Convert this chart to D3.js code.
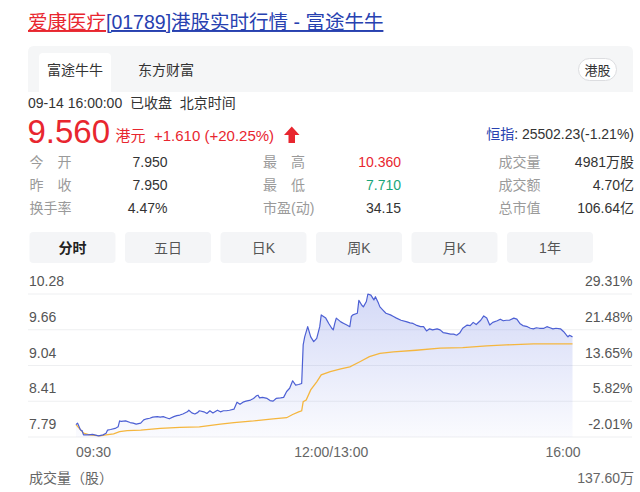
<!DOCTYPE html>
<html>
<head>
<meta charset="utf-8">
<script src="https://cdn.jsdelivr.net/npm/d3@7/dist/d3.min.js"></script>
<style>
  html, body { margin: 0; padding: 0; background: #fff; }
  svg { display: block; font-family: "Liberation Sans", Arial, "Noto Sans CJK SC", sans-serif; }
</style>
</head>
<body>
<svg id="chart" width="640" height="492"></svg>
<script>
// ---------------- DATA ----------------
const titleRed = "爱康医疗";
const titleBlue = "[01789]港股实时行情 - 富途牛牛";
const tabs = ["富途牛牛", "东方财富"];
const marketBadge = "港股";
const statusLine = "09-14 16:00:00  已收盘  北京时间";
const lastPrice = "9.560";
const currency = "港元";
const change = "+1.610 (+20.25%)";
const indexName = "恒指";
const indexValue = ": 25502.23(-1.21%)";
const statLabels1 = ["今　开", "昨　收", "换手率"];
const statValues1 = ["7.950", "7.950", "4.47%"];
const statLabels2 = ["最　高", "最　低", "市盈(动)"];
const statValues2 = ["10.360", "7.710", "34.15"];
const statLabels3 = ["成交量", "成交额", "总市值"];
const statValues3 = ["4981万股", "4.70亿", "106.64亿"];
const periodButtons = ["分时", "五日", "日K", "周K", "月K", "1年"];
const priceTicks = ["10.28", "9.66", "9.04", "8.41", "7.79"];
const pctTicks = ["29.31%", "21.48%", "13.65%", "5.82%", "-2.01%"];
const timeLabels = ["09:30", "12:00/13:00", "16:00"];
const volumeLabel = "成交量（股）";
const volumeMax = "137.60万";

// minutes since 09:30 (lunch break removed, 0..330) and price
const priceMin = [0,1,3,4,5,8,11,15,18,20,21,23,26,28,29,30,33,36,38,40,43,45,47,49,51,54,56,58,60,62,65,67,69,71,74,75,77,79,81,82,85,87,89,91,94,96,98,100,102,105,107,109,111,113,116,118,120,121,122,124,127,129,131,133,136,138,140,142,144,146,148,150,
  151,152,154,156,158,160,162,163,166,168,170,171,172,173,176,178,180,182,183,184,187,188,190,191,193,194,196,198,199,201,202,204,206,209,211,213,216,220,222,224,226,229,231,233,235,237,240,242,244,246,249,251,253,255,257,260,262,264,266,269,271,273,275,277,280,282,284,286,288,291,293,295,297,300,302,304,306,308,311,313,315,317,319,322,324,326,327,328,330];
const priceVal = [7.92,7.95,7.82,7.81,7.73,7.73,7.74,7.71,7.73,7.76,7.82,7.83,7.85,7.88,7.99,7.98,7.99,7.96,7.95,7.93,7.95,8.01,8.03,8.04,8.06,8.07,8.06,8.07,8.05,8.03,8.07,8.09,8.10,8.12,8.16,8.19,8.14,8.12,8.15,8.18,8.16,8.13,8.18,8.14,8.19,8.16,8.18,8.18,8.19,8.21,8.34,8.30,8.34,8.36,8.38,8.41,8.46,8.47,8.42,8.43,8.41,8.37,8.36,8.41,8.42,8.43,8.54,8.60,8.74,8.66,8.67,8.69,
  9.41,9.56,9.75,9.56,9.47,9.53,9.75,9.97,9.91,9.81,9.72,9.69,9.81,9.91,9.84,9.81,9.78,9.75,9.94,9.97,10.00,10.24,10.15,10.12,10.22,10.36,10.34,10.25,10.31,10.19,10.12,10.06,10.00,9.97,9.94,9.91,9.87,9.84,9.82,9.81,9.78,9.75,9.75,9.67,9.71,9.69,9.71,9.69,9.64,9.63,9.61,9.61,9.59,9.63,9.72,9.78,9.77,9.83,9.79,9.87,9.95,9.91,9.78,9.83,9.86,9.89,9.86,9.87,9.87,9.91,9.89,9.81,9.77,9.75,9.72,9.71,9.73,9.72,9.72,9.75,9.73,9.71,9.72,9.71,9.66,9.59,9.56,9.59,9.56];

const avgMin = [0,5,9,16,20,25,29,34,43,56,69,82,96,105,118,131,140,144,148,150,151,153,156,160,163,169,176,182,189,195,202,211,226,242,257,273,286,304,330];
const avgVal = [7.92,7.76,7.73,7.71,7.73,7.75,7.79,7.81,7.82,7.85,7.87,7.88,7.93,7.96,7.99,8.03,8.05,8.11,8.16,8.18,8.35,8.38,8.57,8.72,8.85,8.91,8.96,9.00,9.10,9.19,9.25,9.28,9.31,9.35,9.36,9.39,9.41,9.43,9.43];

// ---------------- DRAW ----------------
const svg = d3.select("#chart");
const RED = "#e8262f", BLUE = "#2741b0", GREEN = "#19a67a";

// title
const title = svg.append("text").attr("x", 28).attr("y", 29).attr("font-size", 19.5);
title.append("tspan").attr("fill", RED).attr("text-decoration", "underline").text(titleRed);
title.append("tspan").attr("fill", BLUE).attr("text-decoration", "underline").text(titleBlue);

// tab bar
svg.append("path").attr("fill", "#f5f6f7")
  .attr("d", "M28,92 V52 Q28,46 34,46 H627 Q633,46 633,52 V92 Z");
svg.append("path").attr("fill", "#fff")
  .attr("d", "M39,92 V57 Q39,53 43,53 H107 Q111,53 111,57 V92 Z");
const tabX = [75, 166];
tabs.forEach((t, i) => {
  svg.append("text").attr("x", tabX[i]).attr("y", 75).attr("text-anchor", "middle")
    .attr("font-size", 14).attr("fill", "#333").text(t);
});
svg.append("rect").attr("x", 578.5).attr("y", 58.5).attr("width", 38).attr("height", 22).attr("rx", 11)
  .attr("fill", "#fff").attr("stroke", "#dcdde0");
svg.append("text").attr("x", 597.5).attr("y", 74.5).attr("text-anchor", "middle")
  .attr("font-size", 13).attr("fill", "#333").text(marketBadge);

// status line
svg.append("text").attr("x", 28).attr("y", 108).attr("font-size", 14).attr("fill", "#333")
  .attr("xml:space", "preserve").style("white-space", "pre").text(statusLine);

// price line
svg.append("text").attr("x", 27.5).attr("y", 142.5).attr("font-size", 33).attr("fill", RED).text(lastPrice);
svg.append("text").attr("x", 115.5).attr("y", 141).attr("font-size", 15).attr("fill", RED).text(currency);
svg.append("text").attr("x", 154).attr("y", 141).attr("font-size", 15).attr("fill", RED).text(change);
svg.append("path").attr("fill", RED)
  .attr("d", "M284,135 L291.75,126.5 L299.5,135 L295,135 L295,143 L288.5,143 L288.5,135 Z");
const idx = svg.append("text").attr("x", 634).attr("y", 139).attr("font-size", 14).attr("text-anchor", "end");
idx.append("tspan").attr("fill", BLUE).text(indexName);
idx.append("tspan").attr("fill", "#333").text(indexValue);

// stats table
const rowY = [167, 190, 213];
const cols = [
  {labels: statLabels1, values: statValues1, lx: 29.5, vx: 167.5, colors: ["#333", "#333", "#333"]},
  {labels: statLabels2, values: statValues2, lx: 263, vx: 401, colors: [RED, GREEN, "#333"]},
  {labels: statLabels3, values: statValues3, lx: 498.5, vx: 634, colors: ["#333", "#333", "#333"]}
];
cols.forEach(c => {
  c.labels.forEach((l, i) => {
    svg.append("text").attr("x", c.lx).attr("y", rowY[i]).attr("font-size", 14).attr("fill", "#9a9a9a").text(l);
    svg.append("text").attr("x", c.vx).attr("y", rowY[i]).attr("font-size", 14).attr("text-anchor", "end")
      .attr("fill", c.colors[i]).text(c.values[i]);
  });
});

// period buttons
const btnX = d3.scaleBand().domain(periodButtons).range([29.5, 593]).paddingInner(0.0995).paddingOuter(0);
periodButtons.forEach((b, i) => {
  svg.append("rect").attr("x", btnX(b)).attr("y", 232).attr("width", btnX.bandwidth()).attr("height", 31)
    .attr("rx", 4).attr("fill", "#f4f5f7");
  svg.append("text").attr("x", btnX(b) + btnX.bandwidth() / 2).attr("y", 253).attr("text-anchor", "middle")
    .attr("font-size", 14).attr("font-weight", i === 0 ? "bold" : "normal")
    .attr("fill", i === 0 ? "#222" : "#555").text(b);
});

// chart scales
const yDomain = [7.69, 10.36];
const y = d3.scaleLinear().domain(yDomain).range([437, 294]);
const x = d3.scaleLinear().domain([0, 330]).range([76, 572.5]);
const gridVals = priceTicks.map((_, i) => yDomain[1] - i * (yDomain[1] - yDomain[0]) / (priceTicks.length - 1));

const grid = svg.append("g");
gridVals.forEach((v, i) => {
  grid.append("line").attr("x1", 28).attr("x2", 632).attr("y1", y(v)).attr("y2", y(v))
    .attr("stroke", "#eeeff1").attr("stroke-width", 1);
  grid.append("text").attr("x", 29).attr("y", y(v) - 8).attr("font-size", 14).attr("fill", "#555").text(priceTicks[i]);
  grid.append("text").attr("x", 632.5).attr("y", y(v) - 8).attr("font-size", 14).attr("fill", "#555")
    .attr("text-anchor", "end").text(pctTicks[i]);
});

// gradient
const defs = svg.append("defs");
const grad = defs.append("linearGradient").attr("id", "areaGrad").attr("x1", 0).attr("x2", 0).attr("y1", 0).attr("y2", 1);
grad.append("stop").attr("offset", "0%").attr("stop-color", "#5a6fe0").attr("stop-opacity", 0.26);
grad.append("stop").attr("offset", "100%").attr("stop-color", "#5a6fe0").attr("stop-opacity", 0.03);

const pts = priceMin.map((m, i) => [m, priceVal[i]]);
const area = d3.area().x(d => x(d[0])).y0(y(yDomain[0])).y1(d => y(d[1]));
svg.append("path").datum(pts).attr("d", area).attr("fill", "url(#areaGrad)");

const line = d3.line().x(d => x(d[0])).y(d => y(d[1]));
svg.append("path").datum(avgMin.map((m, i) => [m, avgVal[i]])).attr("d", line)
  .attr("fill", "none").attr("stroke", "#f5b63e").attr("stroke-width", 1.3);
svg.append("path").datum(pts).attr("d", line)
  .attr("fill", "none").attr("stroke", "#4d60d4").attr("stroke-width", 1.2).attr("stroke-linejoin", "round");

// time labels
svg.append("text").attr("x", x(0)).attr("y", 457).attr("font-size", 14).attr("fill", "#666").text(timeLabels[0]);
svg.append("text").attr("x", (x(0) + x(330) + 8) / 2 + 3).attr("y", 457).attr("font-size", 14).attr("fill", "#666")
  .attr("text-anchor", "middle").text(timeLabels[1]);
svg.append("text").attr("x", x(330) + 8).attr("y", 457).attr("font-size", 14).attr("fill", "#666")
  .attr("text-anchor", "end").text(timeLabels[2]);

// volume header
svg.append("text").attr("x", 29).attr("y", 483).attr("font-size", 14).attr("fill", "#666").text(volumeLabel);
svg.append("text").attr("x", 634).attr("y", 483).attr("font-size", 14).attr("fill", "#666")
  .attr("text-anchor", "end").text(volumeMax);
</script>
</body>
</html>
